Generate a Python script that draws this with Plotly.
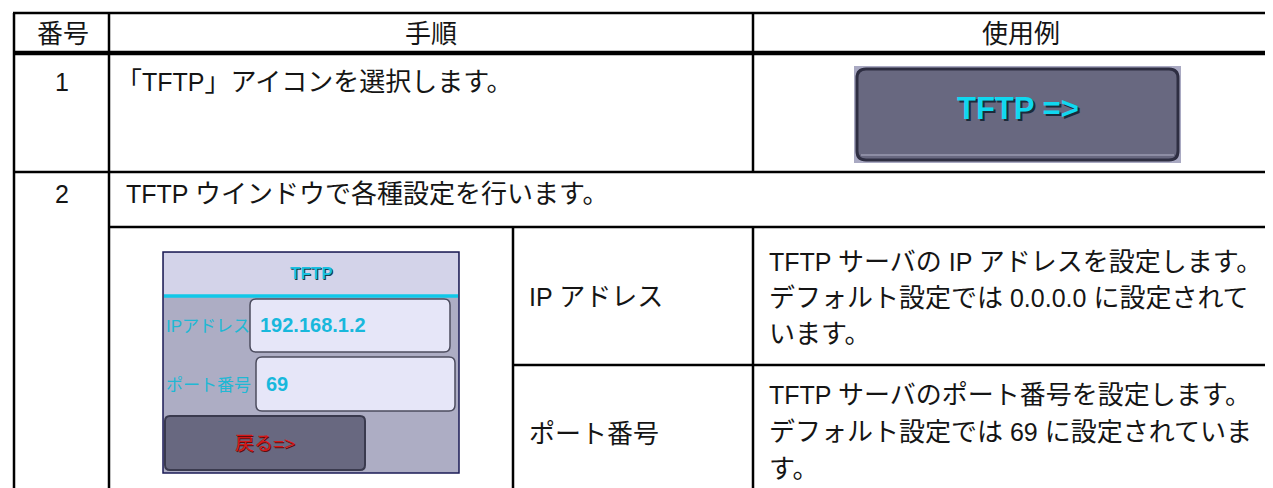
import plotly.graph_objects as go

# ---------------- data ----------------
headers = ["番号", "手順", "使用例"]
step_numbers = ["1", "2"]
step_texts = ["「TFTP」アイコンを選択します。", "TFTP ウインドウで各種設定を行います。"]
setting_names = ["IP アドレス", "ポート番号"]
setting_desc_ip = ["TFTP サーバの IP アドレスを設定します。",
                   "デフォルト設定では 0.0.0.0 に設定されて",
                   "います。"]
setting_desc_port = ["TFTP サーバのポート番号を設定します。",
                     "デフォルト設定では 69 に設定されていま",
                     "す。"]
button_label = "TFTP =>"
window_title = "TFTP"
window_fields = ["IPアドレス", "ポート番号"]
window_values = ["192.168.1.2", "69"]
back_label = "戻る=>"

# ---------------- layout helpers ----------------
W, H = 1273, 488
FONT = "Liberation Sans, Arial, Noto Sans CJK JP"
FS = 25
CJK_FS = 26
shapes = []
annos = []


def is_cjk(ch):
    o = ord(ch)
    return 0x3000 <= o <= 0x9FFF or 0xFF00 <= o <= 0xFFEF


def mixed(s, cjk_size):
    """wrap runs of CJK characters in a span with a slightly larger font size"""
    out, buf, cur = [], "", None
    for ch in s:
        c = is_cjk(ch)
        if cur is None or c == cur:
            buf += ch
        else:
            out.append((cur, buf))
            buf = ch
        cur = c
    if buf:
        out.append((cur, buf))
    res = ""
    for c, b in out:
        if c:
            res += f'<span style="font-size:{cjk_size}px">{b}</span>'
        else:
            res += b
    return res


def line(x0, y0, x1, y1, w=2, color="#000000"):
    shapes.append(dict(type="line", xref="x", yref="y", x0=x0, y0=y0, x1=x1, y1=y1,
                       line=dict(color=color, width=w), layer="above"))


def rect(x0, y0, x1, y1, fill, lc=None, lw=0):
    shapes.append(dict(type="rect", xref="x", yref="y", x0=x0, y0=y0, x1=x1, y1=y1,
                       fillcolor=fill, line=dict(color=lc or fill, width=lw), layer="below"))


def rrect(x0, y0, x1, y1, r, fill, lc, lw):
    p = (f"M {x0+r},{y0} L {x1-r},{y0} Q {x1},{y0} {x1},{y0+r} "
         f"L {x1},{y1-r} Q {x1},{y1} {x1-r},{y1} L {x0+r},{y1} "
         f"Q {x0},{y1} {x0},{y1-r} L {x0},{y0+r} Q {x0},{y0} {x0+r},{y0} Z")
    shapes.append(dict(type="path", xref="x", yref="y", path=p, fillcolor=fill,
                       line=dict(color=lc, width=lw), layer="below"))


def text(x, y, s, size=FS, color="#151515", anchor="left", bold=False, cjk=None):
    if cjk:
        s = mixed(s, cjk)
    if bold:
        s = f"<b>{s}</b>"
    annos.append(dict(x=x, y=y, xref="x", yref="y", text=s, showarrow=False,
                      xanchor=anchor, yanchor="middle",
                      font=dict(family=FONT, size=size, color=color)))


# ---------------- table grid ----------------
XL, XC1, XC2, XR = 6, 101, 745, 1280
Y_TOP, Y_HEAD, Y_R1, Y_R2H, Y_MID = 5, 45, 164, 219, 357
XN = 505

line(XL - 1, Y_TOP, XR, Y_TOP, 2.5)
line(XL - 1, Y_HEAD, XR, Y_HEAD, 4.5)
line(XL - 1, Y_R1, XR, Y_R1, 2.5)
line(XL, Y_TOP, XL, H + 5, 2.5)
line(XC1, Y_TOP, XC1, H + 5, 2.5)
line(XC2, Y_TOP, XC2, Y_R1, 2.5)
line(XC1, Y_R2H, XR, Y_R2H, 2.5)
line(XN, Y_R2H, XN, H + 5, 2.5)
line(XC2, Y_R2H, XC2, H + 5, 2.5)
line(XN, Y_MID, XR, Y_MID, 2.5)

# headers
text((XL + XC1) / 2 + 1, 26, headers[0], anchor="center", cjk=CJK_FS)
text((XC1 + XC2) / 2, 26, headers[1], anchor="center", cjk=CJK_FS)
text((XC2 + 1273) / 2 + 4, 26, headers[2], anchor="center", cjk=CJK_FS)

# rows
text((XL + XC1) / 2, 74, step_numbers[0], anchor="center")
text(106, 74, step_texts[0], cjk=CJK_FS)
text((XL + XC1) / 2, 186, step_numbers[1], anchor="center")
text(116, 186, step_texts[1], cjk=CJK_FS)

# nested settings
text(519, 289, setting_names[0], cjk=CJK_FS)
text(519, 426, setting_names[1], cjk=CJK_FS)
for i, s in enumerate(setting_desc_ip):
    text(759, 254 + 36 * i, s, cjk=CJK_FS)
for i, s in enumerate(setting_desc_port):
    text(759, 387 + 37 * i, s, cjk=CJK_FS)

# ---------------- TFTP button picture ----------------
rect(846, 58, 1173, 155, "#a9a9c2")
rrect(849, 61, 1170, 152, 9, "#686880", "#2e2e42", 3)
line(853, 147, 1166, 147, 1.5, "#9a9ab0")
text(1012, 102, button_label, size=31, color="#1c2a3a", anchor="center", bold=True)
text(1010, 100, button_label, size=31, color="#10d8f0", anchor="center", bold=True)

# ---------------- TFTP window picture ----------------
rect(155, 244, 451, 465, "#adadc4", "#1b1b55", 1.5)
rect(156, 245, 450, 288, "#d3d3e9")
line(156, 288, 450, 288, 3.5, "#10c8e8")
text(304, 266, window_title, size=17, color="#1a3a4a", anchor="center", bold=True)
text(303, 265, window_title, size=17, color="#18c0e0", anchor="center", bold=True)

rrect(242, 291, 442, 344, 6, "#e6e6f8", "#4c4c5e", 1.5)
rrect(248, 349, 447, 403, 6, "#e6e6f8", "#4c4c5e", 1.5)
text(156, 318, window_fields[0], size=17, color="#20b8d4")
text(156, 377, window_fields[1], size=17, color="#20b8d4")
text(250, 317, window_values[0], size=20, color="#18b8dc", bold=True)
text(256, 376, window_values[1], size=20, color="#18b8dc", bold=True)

rrect(157, 408, 357, 462, 5, "#686880", "#3a3a4e", 2)
text(258, 436, back_label, size=19, color="#5a1010", anchor="center")
text(257, 435, back_label, size=19, color="#d41818", anchor="center")

# ---------------- figure ----------------
fig = go.Figure()
fig.add_trace(go.Scatter(x=[0, W], y=[0, H], mode="markers",
                         marker=dict(opacity=0), hoverinfo="skip", showlegend=False))
fig.update_layout(
    width=W, height=H, margin=dict(l=0, r=0, t=0, b=0),
    paper_bgcolor="white", plot_bgcolor="white",
    xaxis=dict(range=[0, W], visible=False, fixedrange=True),
    yaxis=dict(range=[H, 0], visible=False, fixedrange=True),
    shapes=shapes, annotations=annos, showlegend=False,
)
fig.write_html("out.html", config={"displayModeBar": False})
